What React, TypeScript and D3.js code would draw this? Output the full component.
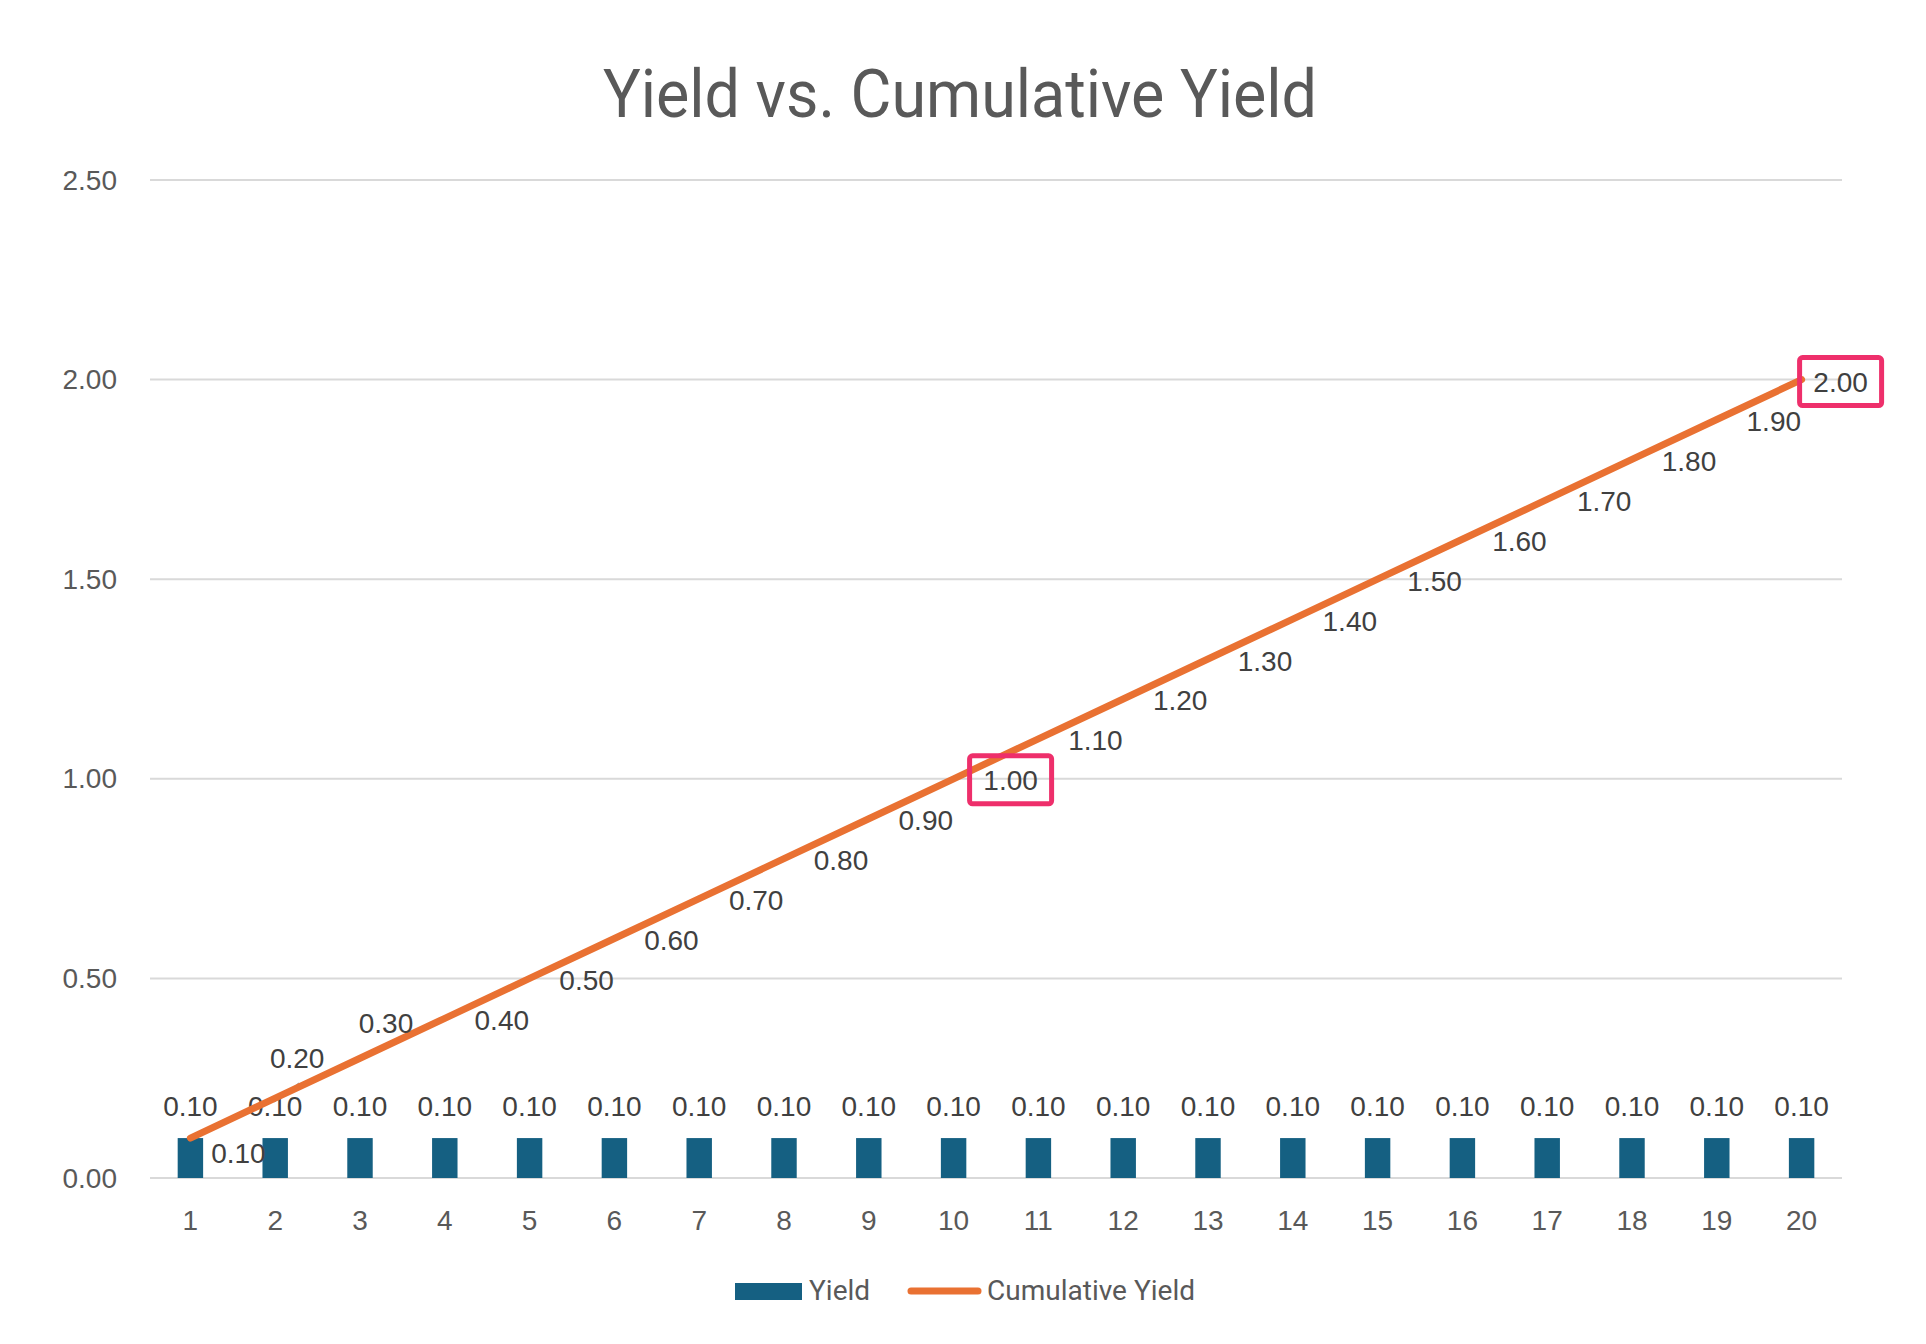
import React, { useEffect } from "react";
import * as d3 from "d3";

// chart data
const periods = ["1", "2", "3", "4", "5", "6", "7", "8", "9", "10", "11", "12", "13", "14", "15", "16", "17", "18", "19", "20"];
const yieldValues = [0.1, 0.1, 0.1, 0.1, 0.1, 0.1, 0.1, 0.1, 0.1, 0.1, 0.1, 0.1, 0.1, 0.1, 0.1, 0.1, 0.1, 0.1, 0.1, 0.1];
const cumulativeValues = [0.1, 0.2, 0.3, 0.4, 0.5, 0.6, 0.7, 0.8, 0.9, 1.0, 1.1, 1.2, 1.3, 1.4, 1.5, 1.6, 1.7, 1.8, 1.9, 2.0];
const yTicks = [0, 0.5, 1.0, 1.5, 2.0, 2.5];
const highlighted = ["10", "20"];

const W = 1926;
const H = 1344;
const margin = { top: 180, right: 82, bottom: 166, left: 148 };

const BLUE = "#156082";
const ORANGE = "#E97132";
const PINK = "#EE2F6B";
const GRID = "#D9D9D9";
const TEXT = "#595959";
const LABEL = "#404040";

// label nudges for the first points (moved by hand in the original), rest sit to the right
const labelNudge: Record<number, [number, number]> = {
  0: [48, 15],
  1: [22, -40],
  2: [26, -35],
  19: [39, 3],
};

export default function App() {
  useEffect(() => {
    document.body.style.margin = "0";
    document.body.style.background = "#fff";
  }, []);

  const x = d3
    .scaleBand()
    .domain(periods)
    .range([margin.left, W - margin.right]);
  const y = d3
    .scaleLinear()
    .domain([0, 2.5])
    .range([H - margin.bottom, margin.top]);

  const cx = (p: string) => (x(p) as number) + x.bandwidth() / 2;
  const barW = x.bandwidth() * 0.3;

  const line = d3
    .line<number>()
    .x((_, i) => cx(periods[i]))
    .y((d) => y(d));

  const numFont = "'Liberation Sans', Arial, sans-serif";
  const fmt = d3.format(".2f");

  return (
    <svg width={W} height={H} style={{ display: "block", background: "#fff" }}>
      <text
        x={W / 2 - 3}
        y={117}
        textAnchor="middle"
        fontFamily="Roboto, sans-serif"
        fontSize={66}
        fill={TEXT}
        textLength={714}
        lengthAdjust="spacingAndGlyphs"
      >
        Yield vs. Cumulative Yield
      </text>

      {/* grid + y labels */}
      {yTicks.map((t) => (
        <g key={t}>
          <line x1={margin.left + 2} x2={W - margin.right - 2} y1={y(t)} y2={y(t)} stroke={GRID} strokeWidth={2} />
          <text x={117} y={y(t)} textAnchor="end" dominantBaseline="central" fontFamily={numFont} fontSize={28} fill={TEXT}>
            {fmt(t)}
          </text>
        </g>
      ))}

      {/* x labels */}
      {periods.map((p) => (
        <text key={p} x={cx(p)} y={1220} textAnchor="middle" dominantBaseline="central" fontFamily={numFont} fontSize={28} fill={TEXT}>
          {p}
        </text>
      ))}

      {/* bars */}
      {periods.map((p, i) => (
        <rect key={p} x={cx(p) - barW / 2} y={y(yieldValues[i])} width={barW} height={y(0) - y(yieldValues[i])} fill={BLUE} />
      ))}

      {/* bar labels */}
      {periods.map((p, i) => (
        <text key={p} x={cx(p)} y={y(yieldValues[i]) - 32} textAnchor="middle" dominantBaseline="central" fontFamily={numFont} fontSize={28} fill={LABEL}>
          {fmt(yieldValues[i])}
        </text>
      ))}

      {/* leader line for the 0.20 label */}
      <line
        x1={cx(periods[1]) + 8}
        y1={y(cumulativeValues[1]) - 2}
        x2={cx(periods[1]) + 24}
        y2={y(cumulativeValues[1]) - 15}
        stroke="#A6A6A6"
        strokeWidth={2}
      />

      <path d={line(cumulativeValues) || ""} fill="none" stroke={ORANGE} strokeWidth={7} strokeLinecap="round" strokeLinejoin="round" />

      {/* line labels */}
      {periods.map((p, i) => {
        const [dx, dy] = labelNudge[i] || [57, 2];
        const lx = cx(p) + dx;
        const ly = y(cumulativeValues[i]) + dy;
        return (
          <g key={p}>
            {highlighted.includes(p) && (
              <rect x={lx - 41} y={ly - 25} width={82} height={48} rx={3} fill="none" stroke={PINK} strokeWidth={5} />
            )}
            <text x={lx} y={ly} textAnchor="middle" dominantBaseline="central" fontFamily={numFont} fontSize={28} fill={LABEL}>
              {fmt(cumulativeValues[i])}
            </text>
          </g>
        );
      })}

      {/* legend */}
      <rect x={735} y={1283} width={67} height={17} fill={BLUE} />
      <text x={809} y={1300} fontFamily="Roboto, sans-serif" fontSize={28} fill={TEXT}>
        Yield
      </text>
      <line x1={911} x2={978} y1={1291} y2={1291} stroke={ORANGE} strokeWidth={7} strokeLinecap="round" />
      <text x={987} y={1300} fontFamily="Roboto, sans-serif" fontSize={28} fill={TEXT} textLength={208} lengthAdjust="spacingAndGlyphs">
        Cumulative Yield
      </text>
    </svg>
  );
}
